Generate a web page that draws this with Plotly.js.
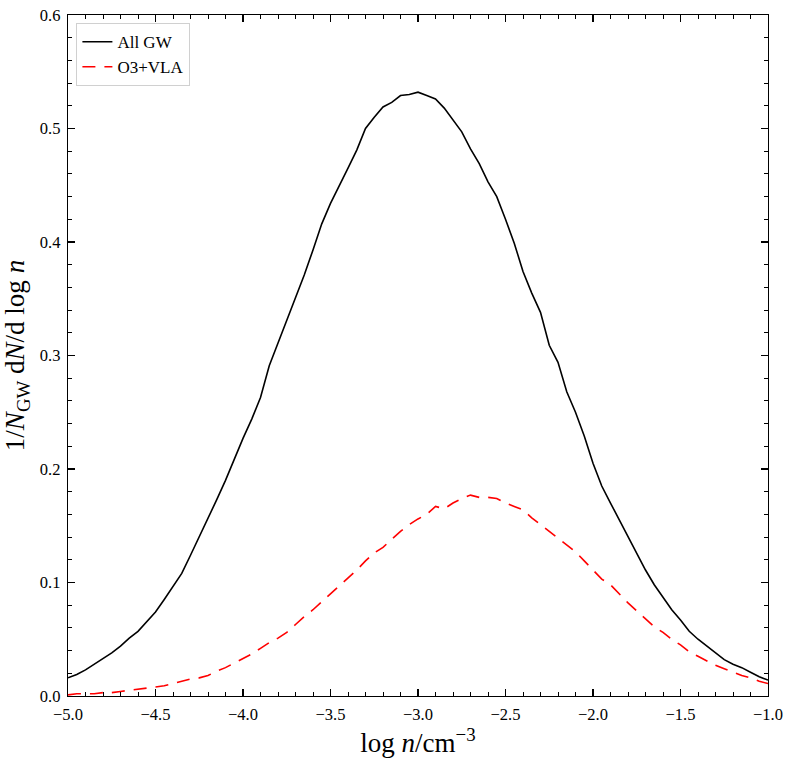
<!DOCTYPE html>
<html>
<head>
<meta charset="utf-8">
<script src="https://cdn.plot.ly/plotly-3.0.1.min.js"></script>
<style>
  html, body { margin: 0; padding: 0; background: #fff; }
  #chart { width: 793px; height: 765px; }
</style>
</head>
<body>
<div id="chart"></div>
<script>
// log n grid (step 0.05)
var logN = [
  -5.00, -4.95, -4.90, -4.85, -4.80, -4.75, -4.70, -4.65, -4.60, -4.55,
  -4.50, -4.45, -4.40, -4.35, -4.30, -4.25, -4.20, -4.15, -4.10, -4.05,
  -4.00, -3.95, -3.90, -3.85, -3.80, -3.75, -3.70, -3.65, -3.60, -3.55,
  -3.50, -3.45, -3.40, -3.35, -3.30, -3.25, -3.20, -3.15, -3.10, -3.05,
  -3.00, -2.95, -2.90, -2.85, -2.80, -2.75, -2.70, -2.65, -2.60, -2.55,
  -2.50, -2.45, -2.40, -2.35, -2.30, -2.25, -2.20, -2.15, -2.10, -2.05,
  -2.00, -1.95, -1.90, -1.85, -1.80, -1.75, -1.70, -1.65, -1.60, -1.55,
  -1.50, -1.45, -1.40, -1.35, -1.30, -1.25, -1.20, -1.15, -1.10, -1.05,
  -1.00
];

var allGW = [
  0.016, 0.019, 0.023, 0.028, 0.033, 0.038, 0.044, 0.051, 0.057, 0.066,
  0.074, 0.085, 0.096, 0.108, 0.124, 0.140, 0.157, 0.173, 0.190, 0.209,
  0.227, 0.244, 0.263, 0.291, 0.311, 0.330, 0.350, 0.371, 0.393, 0.416,
  0.434, 0.449, 0.465, 0.481, 0.500, 0.510, 0.519, 0.523, 0.529, 0.530,
  0.532, 0.529, 0.526, 0.518, 0.508, 0.497, 0.482, 0.469, 0.453, 0.440,
  0.420, 0.399, 0.374, 0.355, 0.338, 0.309, 0.294, 0.268, 0.250, 0.229,
  0.205, 0.185, 0.170, 0.155, 0.140, 0.126, 0.111, 0.098, 0.087, 0.076,
  0.067, 0.057, 0.050, 0.044, 0.038, 0.032, 0.028, 0.025, 0.021, 0.017,
  0.014
];

var o3VLA = [
  0.001, 0.002, 0.002, 0.002, 0.003, 0.003, 0.004, 0.005, 0.006, 0.007,
  0.008, 0.009, 0.011, 0.013, 0.015, 0.016, 0.018, 0.022, 0.025, 0.029,
  0.033, 0.037, 0.042, 0.047, 0.051, 0.056, 0.063, 0.070, 0.076, 0.083,
  0.090, 0.097, 0.104, 0.111, 0.119, 0.126, 0.131, 0.138, 0.145, 0.151,
  0.156, 0.160, 0.167, 0.165, 0.170, 0.174, 0.177, 0.175, 0.175, 0.174,
  0.170, 0.167, 0.164, 0.157, 0.151, 0.145, 0.139, 0.133, 0.127, 0.119,
  0.111, 0.103, 0.098, 0.090, 0.082, 0.075, 0.068, 0.061, 0.056, 0.050,
  0.045, 0.039, 0.035, 0.031, 0.027, 0.024, 0.021, 0.018, 0.016, 0.013,
  0.011
];

var serif = 'Liberation Serif, DejaVu Serif, serif';

var traceAll = {
  x: logN,
  y: allGW,
  mode: 'lines',
  name: 'All GW',
  line: { color: '#000000', width: 1.6 },
  type: 'scatter'
};

var traceVLA = {
  x: logN,
  y: o3VLA,
  mode: 'lines',
  name: 'O3+VLA',
  line: { color: '#ff0000', width: 1.6, dash: '13px,9px' },
  type: 'scatter'
};

var axisCommon = {
  showgrid: false,
  zeroline: false,
  showline: true,
  linecolor: '#000',
  linewidth: 1.3,
  mirror: 'ticks',
  ticks: 'inside',
  ticklen: 7,
  tickwidth: 1.1,
  tickcolor: '#000',
  tickformat: '.1f',
  ticklabelstandoff: 3,
  tickfont: { family: serif, size: 16.5, color: '#000' }
};

var layout = {
  width: 793,
  height: 765,
  margin: { l: 68, r: 25, t: 15, b: 69 },
  paper_bgcolor: '#fff',
  plot_bgcolor: '#fff',
  font: { family: serif, color: '#000' },
  xaxis: Object.assign({}, axisCommon, {
    range: [-5.0, -1.0],
    dtick: 0.5,
    tick0: -5.0,
    minor: { dtick: 0.1, ticks: 'inside', ticklen: 4, tickwidth: 1, tickcolor: '#000' },
    title: { text: 'log <i>n</i>/cm<sup>−3</sup>', font: { family: serif, size: 27 }, standoff: 6 }
  }),
  yaxis: Object.assign({}, axisCommon, {
    range: [0, 0.6],
    dtick: 0.1,
    tick0: 0,
    minor: { dtick: 0.02, ticks: 'inside', ticklen: 4, tickwidth: 1, tickcolor: '#000' },
    title: { text: '1/<i>N</i><sub>GW</sub> d<i>N</i>/d log <i>n</i>', font: { family: serif, size: 27 }, standoff: 8 }
  }),
  legend: {
    x: 0.012,
    y: 0.988,
    xanchor: 'left',
    yanchor: 'top',
    bgcolor: 'rgba(255,255,255,0.8)',
    bordercolor: '#d0d0d0',
    borderwidth: 1,
    font: { family: serif, size: 17, color: '#000' },
    tracegroupgap: 0
  },
  showlegend: true
};

Plotly.newPlot('chart', [traceAll, traceVLA], layout, { displayModeBar: false, staticPlot: true });
</script>
</body>
</html>
